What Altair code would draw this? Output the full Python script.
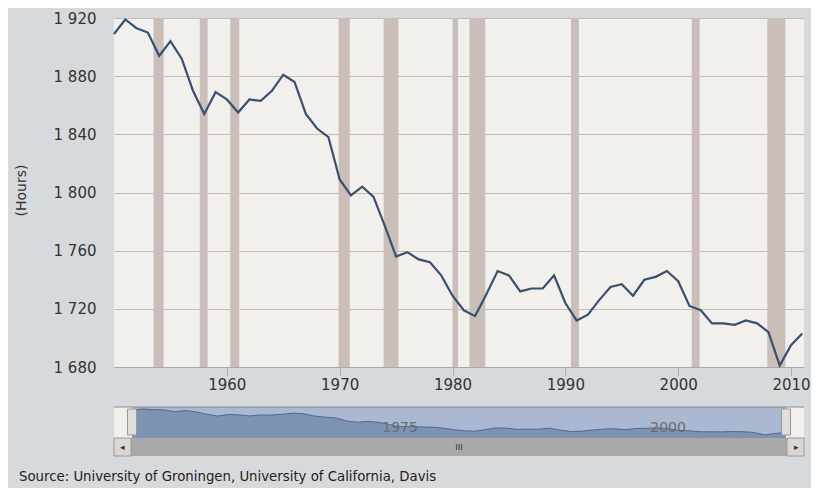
import altair as alt
import pandas as pd

years = list(range(1950, 2012))
hours = [1909, 1919, 1913, 1910, 1894, 1904, 1892, 1870, 1854, 1869,
         1864, 1855, 1864, 1863, 1870, 1881, 1876, 1854, 1844, 1838,
         1809, 1798, 1804, 1797, 1777, 1756, 1759, 1754, 1752, 1743,
         1729, 1719, 1715, 1730, 1746, 1743, 1732, 1734, 1734, 1743,
         1724, 1712, 1716, 1726, 1735, 1737, 1729, 1740, 1742, 1746,
         1739, 1722, 1719, 1710, 1710, 1709, 1712, 1710, 1704, 1681,
         1695, 1703]
rec_start = [1953.5, 1957.6, 1960.3, 1969.9, 1973.9, 1980.0, 1981.5, 1990.5, 2001.2, 2007.9]
rec_end = [1954.4, 1958.3, 1961.1, 1970.9, 1975.2, 1980.5, 1982.9, 1991.2, 2001.9, 2009.5]
nav_labels = [1975, 2000]

df = pd.DataFrame({"year": years, "hours": hours})
rec = pd.DataFrame({"s": rec_start, "e": rec_end})
FONT = "DejaVu Sans"
W = 690

xs = alt.Scale(domain=[1950, 2011.15], nice=False, zero=False)
ys = alt.Scale(domain=[1680, 1920], nice=False, zero=False)

bands = alt.Chart(rec).mark_rect(color="#c9bfb8").encode(
    x=alt.X("s:Q", scale=xs), x2="e:Q")
line = alt.Chart(df).mark_line(color="#3b4f6f", strokeWidth=2.2).encode(
    x=alt.X("year:Q", scale=xs, title=None,
            axis=alt.Axis(values=[1960, 1970, 1980, 1990, 2000, 2010], format="d",
                          grid=False, domain=True, domainColor="#a9a9a9", tickColor="#a9a9a9",
                          tickSize=8, labelFontSize=15, labelColor="#333", labelFont=FONT,
                          labelPadding=2)),
    y=alt.Y("hours:Q", scale=ys, title="(Hours)",
            axis=alt.Axis(values=[1680, 1720, 1760, 1800, 1840, 1880, 1920],
                          labelExpr="replace(format(datum.value, ','), ',', ' ')",
                          grid=True, gridColor="#c7bcb4", gridWidth=1.2, domain=False, ticks=False,
                          labelFontSize=15, labelColor="#333", labelFont=FONT, labelPadding=18,
                          titleFont=FONT, titleFontSize=14, titleFontWeight="normal",
                          titleColor="#333", titleX=-86, titleY=172)))
main = alt.layer(bands, line).properties(width=W, height=349)

nxs = alt.Scale(domain=[1948.32, 2012.68], nice=False, zero=False)
nys = alt.Scale(domain=[1488, 1937], nice=False, zero=False)
sel = alt.Chart(pd.DataFrame({"a": [1950], "b": [2011]})).mark_rect(color="#aab9d1").encode(
    x=alt.X("a:Q", scale=nxs, axis=None), x2="b:Q", y=alt.value(0), y2=alt.value(31))
area = alt.Chart(df).mark_area(color="#6a83a8", line={"color": "#4f6890", "strokeWidth": 1}).encode(
    x=alt.X("year:Q", scale=nxs, axis=None),
    y=alt.Y("hours:Q", scale=nys, axis=None), y2=alt.datum(1653))
toprule = alt.Chart(df.head(1)).mark_rule(color="#8a8a8a").encode(
    x=alt.value(0), x2=alt.value(W), y=alt.value(0))
nlab = alt.Chart(pd.DataFrame({"y": nav_labels})).mark_text(
    font=FONT, fontSize=14, color="#6b6b6b").encode(
    x=alt.X("y:Q", scale=nxs), y=alt.value(21), text=alt.Text("y:Q", format="d"))
scroll = alt.Chart(df.head(1)).mark_rect(color="#a9a9a9").encode(
    x=alt.value(0), x2=alt.value(W), y=alt.value(31), y2=alt.value(49))
arrL = alt.Chart(df.head(1)).mark_rect(color="#dcd6d0", stroke="#9a9a9a").encode(
    x=alt.value(0), x2=alt.value(17), y=alt.value(31), y2=alt.value(49))
arrR = alt.Chart(df.head(1)).mark_rect(color="#dcd6d0", stroke="#9a9a9a").encode(
    x=alt.value(W - 17), x2=alt.value(W), y=alt.value(31), y2=alt.value(49))
arrows = alt.Chart(pd.DataFrame({"t": ["◂", "▸", "III"], "x": [8, W - 8, W / 2]})).mark_text(
    fontSize=9, color="#333").encode(x=alt.X("x:Q", scale=None), y=alt.value(40), text="t:N")
handles = alt.Chart(pd.DataFrame({"h": [1950, 2011]})).mark_rect(
    color="#e2ddd8", stroke="#999", width=9, height=26).encode(
    x=alt.X("h:Q", scale=nxs), y=alt.value(15))
source = alt.Chart(df.head(1)).mark_text(
    text="Source: University of Groningen, University of California, Davis",
    font=FONT, fontSize=13.3, color="#222", align="left").encode(
    x=alt.value(-95), y=alt.value(70))
nav = alt.layer(sel, area, toprule, nlab, scroll, arrL, arrR, arrows, handles, source).properties(
    width=W, height=49)

chart = alt.vconcat(main, nav, spacing=40, bounds="flush").properties(
    background="#d7dadd",
    padding={"left": 6, "top": 3, "right": 0, "bottom": 4}
).configure_view(fill="#f2f0ed", stroke=None).resolve_scale(x="independent", y="independent")

chart.save("out.html", embed_options={"renderer": "svg", "actions": False})
